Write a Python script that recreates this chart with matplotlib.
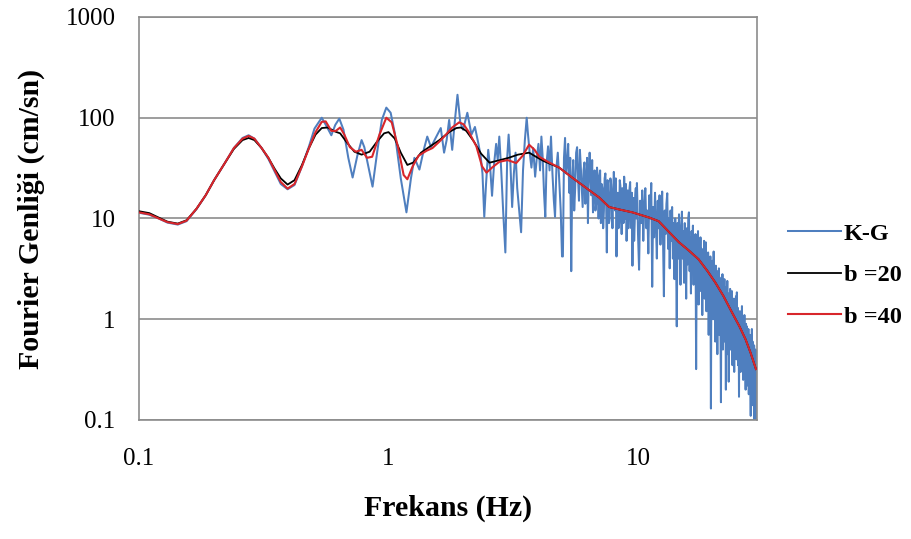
import matplotlib
matplotlib.use('Agg')
import matplotlib.pyplot as plt

# K-G Fourier amplitude spectrum (frequency in Hz, amplitude in cm/sn)
kg_freq = [
    0.100, 0.110, 0.120, 0.130, 0.143, 0.155, 0.170, 0.185, 0.200, 0.220,
    0.240, 0.260, 0.275, 0.290, 0.310, 0.330, 0.350, 0.370, 0.394, 0.420,
    0.450, 0.480,
    0.505, 0.540, 0.565, 0.590, 0.612, 0.635, 0.660, 0.690, 0.718, 0.750,
    0.780, 0.800, 0.830, 0.863, 0.900, 0.940, 0.980, 1.020, 1.060, 1.120,
    1.180, 1.230, 1.270, 1.330, 1.390, 1.430, 1.480, 1.540, 1.620, 1.670,
    1.710, 1.750, 1.800, 1.850, 1.890, 1.940, 1.990, 2.070, 2.150, 2.220,
    2.290,
    2.340, 2.380, 2.420, 2.460, 2.510, 2.560, 2.600, 2.650, 2.700, 2.740,
    2.780, 2.830, 2.880, 2.940, 2.990, 3.030, 3.080, 3.130, 3.180, 3.230,
    3.280, 3.340, 3.400, 3.460, 3.520, 3.580, 3.620, 3.680, 3.740, 3.800,
    3.870, 3.930, 3.990, 4.050, 4.100, 4.150, 4.200, 4.250, 4.300, 4.360,
    4.420, 4.480, 4.540, 4.600, 4.650, 4.710, 4.770, 4.830, 4.900, 4.960,
    5.00, 5.05, 5.10, 5.15, 5.20, 5.25, 5.30, 5.35, 5.40, 5.45,
    5.50, 5.55, 5.60, 5.65, 5.70, 5.75, 5.80, 5.85, 5.90, 5.95,
    6.00, 6.05, 6.10, 6.15, 6.20, 6.25, 6.30, 6.35, 6.40, 6.45,
    6.50, 6.55, 6.60, 6.65, 6.70, 6.75, 6.80, 6.85, 6.90, 6.95,
    7.00, 7.05, 7.10, 7.15, 7.20, 7.25, 7.30, 7.35, 7.40, 7.45,
    7.50, 7.55, 7.60, 7.65, 7.70, 7.75, 7.80, 7.85, 7.90, 7.95,
    8.00, 8.05, 8.10, 8.15, 8.20, 8.25, 8.30, 8.35, 8.40, 8.45,
    8.50, 8.55, 8.60, 8.65, 8.70, 8.75, 8.80, 8.85, 8.90, 8.95,
    9.00, 9.05, 9.10, 9.15, 9.20, 9.25, 9.30, 9.35, 9.40, 9.45,
    9.50, 9.55, 9.60, 9.65, 9.70, 9.75, 9.80, 9.85, 9.90, 9.95,
    10.0, 10.1, 10.2, 10.3, 10.4, 10.5, 10.6, 10.7, 10.8, 10.9,
    11.0, 11.1, 11.2, 11.3, 11.4, 11.5, 11.6, 11.7, 11.8, 11.9,
    12.0, 12.1, 12.2, 12.3, 12.4, 12.5, 12.6, 12.7, 12.8, 12.9,
    13.0, 13.1, 13.2, 13.3, 13.4, 13.5, 13.6, 13.7, 13.8, 13.9,
    14.0, 14.1, 14.2, 14.3, 14.4, 14.5, 14.6, 14.7, 14.8, 14.9,
    15.0, 15.1, 15.2, 15.3, 15.4, 15.5, 15.6, 15.7, 15.8, 15.9,
    16.0, 16.1, 16.2, 16.3, 16.4, 16.5, 16.6, 16.7, 16.8, 16.9,
    17.0, 17.1, 17.2, 17.3, 17.4, 17.5, 17.6, 17.7, 17.8, 17.9,
    18.0, 18.1, 18.2, 18.3, 18.4, 18.5, 18.6, 18.7, 18.8, 18.9,
    19.0, 19.1, 19.2, 19.3, 19.4, 19.5, 19.6, 19.7, 19.8, 19.9,
    20.0, 20.1, 20.2, 20.3, 20.4, 20.5, 20.6, 20.7, 20.8, 20.9,
    21.0, 21.1, 21.2, 21.3, 21.4, 21.5, 21.6, 21.7, 21.8, 21.9,
    22.0, 22.1, 22.2, 22.3, 22.4, 22.5, 22.6, 22.7, 22.8, 22.9,
    23.0, 23.1, 23.2, 23.3, 23.4, 23.5, 23.6, 23.7, 23.8, 23.9,
    24.0, 24.1, 24.2, 24.3, 24.4, 24.5, 24.6, 24.7, 24.8, 24.9,
    25.0, 25.1, 25.2, 25.3, 25.4, 25.5, 25.6, 25.7, 25.8, 25.9,
    26.0, 26.1, 26.2, 26.3, 26.4, 26.5, 26.6, 26.7, 26.8, 26.9,
    27.0, 27.1, 27.2, 27.3, 27.4, 27.5, 27.6, 27.7, 27.8, 27.9,
    28.0, 28.1, 28.2, 28.3, 28.4, 28.5, 28.6, 28.7, 28.8, 28.9,
    29.0, 29.1, 29.2, 29.3, 29.4, 29.5, 29.6, 29.7, 29.8, 29.9,
    30.0,
]
kg_amp = [
    11.4, 10.9, 10.0, 9.1, 8.7, 9.4, 12.4, 17, 24, 35,
    50, 63, 67, 62, 50, 39, 29, 22, 19.5, 21.5,
    33, 52,
    78, 100, 82, 67, 85, 98, 76, 40, 25.5, 42,
    60, 51, 33, 20.7, 45, 95, 126, 112, 70, 25,
    11.5, 25, 40, 30.6, 50, 65, 51, 62, 79, 45,
    60, 95, 48, 100, 169, 90, 76, 112, 68, 81,
    56,
    42, 28, 10.4, 22, 48, 30, 16.8, 35, 55, 38,
    65, 30, 12, 4.6, 40, 68, 35, 13, 28, 45,
    20, 12, 7.3, 30, 60, 100, 70, 45, 32, 50,
    26, 40, 55, 30, 65, 40, 18, 10.4, 35, 52,
    30, 65, 28, 15, 10.4, 32, 45, 25, 12, 4.2,
    4.2, 40, 63, 28, 35, 55, 18, 40, 3.0, 24,
    38, 12, 20, 45, 51, 25, 15, 48, 32, 20,
    13, 30, 36, 14, 22, 40, 9, 28, 45, 25,
    17, 38, 11.5, 22, 30, 12, 14, 32, 26, 10,
    24, 30, 9, 22, 20, 8, 12, 25, 28, 15,
    4.6, 24, 17, 9, 10, 25, 22, 14, 8, 18,
    29, 20, 12, 25, 4.2, 14, 18, 8, 9, 24,
    21, 12, 7, 20, 15, 9, 26, 16, 10, 22,
    6, 13, 19, 8, 11, 20, 23, 12, 8, 18,
    3.4, 12, 16, 6, 9, 17, 20, 10, 22.5, 14,
    7, 3.1, 15, 9, 19, 6, 14, 20, 8, 12,
    4.5, 17, 10, 22.5, 2.1, 13, 6.5, 18, 9, 4,
    15, 8, 17, 5.5, 11, 18.5, 6, 1.69, 12, 7,
    14, 17.8, 5, 10, 3.2, 12, 6, 13, 4, 9,
    2.5, 10, 5.5, 0.85, 9, 4, 11, 6, 2.2, 8,
    11.7, 4, 7.5, 2.3, 9, 5, 1.6, 8, 3.5, 10,
    11.5, 3, 6.5, 1.8, 7.5, 4, 8.5, 2.2, 6, 3.2,
    7, 0.32, 5, 2.6, 7.5, 1.4, 5.5, 3.0, 6.5, 1.9,
    5, 1.1, 4.2, 2.4, 6, 1.6, 4.8, 5.8, 1.2, 3.6,
    2.0, 4.6, 0.7, 3.5, 1.5, 4.2, 0.13, 3.2, 1.8, 3.8,
    1.0, 4.7, 1.5, 3.0, 0.6, 3.4, 1.2, 2.6, 0.45, 3.0,
    1.4, 3.2, 0.7, 2.4, 1.0, 0.15, 2.6, 1.2, 2.8, 0.5,
    2.2, 0.9, 2.5, 0.6, 1.9, 0.2, 2.1, 1.0, 2.4, 0.45,
    1.8, 0.24, 1.6, 0.8, 2.0, 0.5, 1.7, 0.9, 1.9, 0.35,
    1.5, 0.7, 1.6, 0.3, 1.3, 0.8, 1.5, 1.69, 0.4, 1.85,
    0.6, 1.3, 0.35, 1.1, 0.17, 1.2, 0.5, 1.0, 0.3, 1.2,
    0.55, 1.35, 0.4, 0.9, 0.25, 1.0, 0.45, 1.1, 0.3, 0.8,
    0.2, 0.9, 0.4, 0.85, 0.22, 0.75, 0.35, 0.8, 0.18, 0.6,
    0.3, 0.7, 0.25, 0.11, 0.55, 0.3, 0.8, 0.2, 0.6, 0.14,
    0.5, 0.25, 0.55, 0.1, 0.45, 0.15, 0.5, 0.09, 0.4, 0.12,
    0.35,
]

# smoothed spectrum, b = 20
b20_freq = [
    0.100, 0.110, 0.120, 0.130, 0.143, 0.155, 0.170, 0.185, 0.200, 0.220,
    0.240, 0.260, 0.275, 0.290, 0.310, 0.330, 0.350, 0.370, 0.394, 0.420,
    0.450, 0.480, 0.510, 0.540, 0.570, 0.610, 0.640, 0.680, 0.730, 0.780,
    0.840, 0.900, 0.960, 1.000, 1.060, 1.120, 1.190, 1.260, 1.350, 1.460,
    1.600, 1.750, 1.870, 1.950, 2.050, 2.200, 2.350, 2.540, 2.800, 3.030,
    3.300, 3.660, 3.900, 4.200, 4.830, 5.500, 6.300, 7.000, 7.660, 8.400,
    9.500, 11.10, 12.10, 13.20, 14.60, 16.00, 17.50, 19.00, 20.40, 22.00,
    23.80, 25.50, 27.00, 28.30, 29.70,
]
b20_amp = [
    11.8, 11.3, 10.2, 9.3, 8.9, 9.6, 12.5, 17, 24, 35,
    49, 60, 63, 60, 50, 40, 31, 25, 21.7, 24,
    34, 50, 68, 79, 80, 73, 70, 57, 46, 43,
    46, 58, 70, 72, 62, 45, 34, 36, 45, 51.5,
    60, 72, 79, 80, 74, 58, 44, 35.8, 38, 40,
    43, 45, 41, 37, 32, 25, 19.5, 16.1, 13, 12.3,
    11.5, 10.2, 9.4, 7.5, 5.8, 4.8, 3.93, 3.0, 2.32, 1.7,
    1.17, 0.85, 0.63, 0.46, 0.32,
]

# smoothed spectrum, b = 40
b40_freq = [
    0.100, 0.110, 0.120, 0.130, 0.143, 0.155, 0.170, 0.185, 0.200, 0.220,
    0.240, 0.260, 0.275, 0.290, 0.310, 0.330, 0.350, 0.370, 0.394, 0.420,
    0.450, 0.480, 0.510, 0.540, 0.560, 0.590, 0.615, 0.640, 0.665, 0.700,
    0.740, 0.780, 0.820, 0.860, 0.920, 0.980, 1.030, 1.090, 1.150, 1.190,
    1.250, 1.320, 1.420, 1.500, 1.600, 1.700, 1.800, 1.920, 2.000, 2.100,
    2.250, 2.370, 2.470, 2.600, 2.780, 3.000, 3.250, 3.450, 3.660, 3.850,
    4.020, 4.400, 4.830, 5.500, 6.300, 7.000, 7.660, 8.400, 9.500, 11.10,
    12.10, 13.20, 14.60, 16.00, 17.50, 19.00, 20.40, 22.00, 23.80, 25.50,
    27.00, 28.30, 29.70,
]
b40_amp = [
    11.5, 11.0, 10.0, 9.2, 8.8, 9.5, 12.5, 17, 24, 35,
    50, 62, 66, 62, 50, 40, 30, 23, 19.8, 22,
    33, 50, 72, 91, 92, 74, 74, 80, 68, 51,
    46, 48, 40, 41, 68, 100, 90, 52, 27, 24.5,
    33, 42, 47, 50, 58, 68, 80, 90, 86, 72,
    52, 33, 28.5, 32, 36.5, 38, 35.5, 42, 54, 48,
    41, 36, 32, 25, 19.5, 16.1, 13, 12.3, 11.5, 10.2,
    9.4, 7.5, 5.8, 4.8, 3.93, 3.0, 2.32, 1.7, 1.17, 0.85,
    0.63, 0.46, 0.32,
]

x_ticks = [0.1, 1, 10]
x_tick_labels = ['0.1', '1', '10']
y_ticks = [0.1, 1, 10, 100, 1000]
y_tick_labels = ['0.1', '1', '10', '100', '1000']

plt.rcParams['font.family'] = ['Liberation Serif', 'DejaVu Serif']

fig = plt.figure(figsize=(9.11, 5.39), dpi=100)
ax = fig.add_axes([0.1526, 0.2208, 0.6784, 0.7477])

ax.plot(kg_freq, kg_amp, color='#4f7fbf', lw=1.45, label='K-G', zorder=2)
ax.plot(b20_freq, b20_amp, color='black', lw=1.3, label='b =20', zorder=3)
ax.plot(b40_freq, b40_amp, color='#d8262b', lw=1.5, label='b =40', zorder=4)

ax.set_xscale('log')
ax.set_yscale('log')
ax.set_xlim(0.1, 30)
ax.set_ylim(0.1, 1000)
ax.set_xticks(x_ticks)
ax.set_xticklabels(x_tick_labels)
ax.set_yticks(y_ticks)
ax.set_yticklabels(y_tick_labels)
ax.minorticks_off()
ax.tick_params(axis='both', length=0, labelsize=18)
ax.tick_params(axis='x', pad=20)
ax.tick_params(axis='y', pad=17)

ax.yaxis.grid(True, color='#8c8c8c', lw=1.2)
ax.set_axisbelow(True)
for s in ax.spines.values():
    s.set_color('#8c8c8c')
    s.set_linewidth(1.2)

ax.set_xlabel('Frekans (Hz)', fontsize=21.5, fontweight='bold', labelpad=18)
ax.set_ylabel('Fourier Genliği (cm/sn)', fontsize=21.5, fontweight='bold', labelpad=15)

leg = fig.legend(loc='upper left', bbox_to_anchor=(0.841, 0.627), frameon=False,
                 prop={'weight': 'bold', 'size': 17.5}, handlelength=2.2,
                 handletextpad=0.1, labelspacing=0.8)

fig.savefig('out.png', dpi=100)
